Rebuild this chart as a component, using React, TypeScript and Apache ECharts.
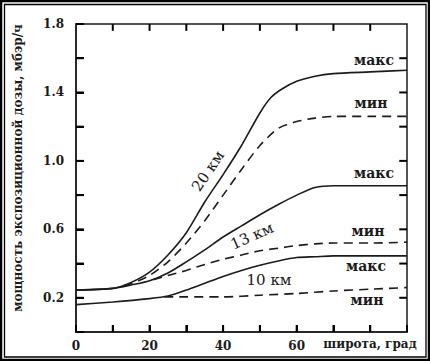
import React, { useEffect, useRef } from "react";
import * as echarts from "echarts";

// Latitude (deg) and dose rate (mrem/h)
const lat20max = [0, 10, 15, 20, 25, 30, 35, 40, 45, 50, 53, 56, 60, 65, 70, 80, 90];
const val20max = [0.245, 0.255, 0.29, 0.35, 0.45, 0.58, 0.76, 0.92, 1.09, 1.28, 1.37, 1.42, 1.465, 1.495, 1.51, 1.52, 1.53];

const lat20min = [13, 17, 20, 25, 30, 35, 40, 45, 50, 55, 60, 65, 70, 80, 90];
const val20min = [0.27, 0.3, 0.33, 0.41, 0.52, 0.65, 0.8, 0.95, 1.09, 1.19, 1.23, 1.25, 1.26, 1.26, 1.26];

const lat13max = [0, 10, 15, 20, 25, 30, 35, 40, 45, 50, 55, 60, 65, 70, 80, 90];
const val13max = [0.245, 0.255, 0.275, 0.3, 0.345, 0.41, 0.48, 0.555, 0.62, 0.685, 0.745, 0.8, 0.845, 0.855, 0.855, 0.855];

const lat13min = [21, 25, 30, 35, 40, 45, 50, 55, 60, 65, 70, 80, 90];
const val13min = [0.305, 0.33, 0.36, 0.395, 0.425, 0.45, 0.475, 0.49, 0.505, 0.515, 0.52, 0.52, 0.525];

const lat10max = [0, 10, 20, 25, 30, 35, 40, 45, 50, 55, 60, 65, 70, 80, 90];
const val10max = [0.16, 0.175, 0.195, 0.21, 0.245, 0.285, 0.325, 0.36, 0.39, 0.415, 0.435, 0.44, 0.445, 0.445, 0.445];

const lat10min = [24, 30, 40, 50, 60, 70, 80, 90];
const val10min = [0.205, 0.205, 0.205, 0.215, 0.225, 0.24, 0.25, 0.26];

const xTickLabels = [0, 20, 40, 60];
const yTickLabels = [0.2, 0.6, 1.0, 1.4, 1.8];
const xTickMarks = [10, 20, 30, 40, 50, 60, 70, 80];
const yTickMarks = [0.2, 0.4, 0.6, 0.8, 1.0, 1.2, 1.4, 1.6];

const yAxisTitle = "мощность экспозиционной дозы, мбэр/ч";
const xAxisTitle = "широта, град";

const pair = (xs: number[], ys: number[]) => xs.map((x, i) => [x, ys[i]]);

const INK = "#1b1b1b";
const SERIF = "DejaVu Serif";
const X_MIN = 0;
const X_MAX = 90;
const Y_MIN = 0;
const Y_MAX = 1.8;
// tick lengths expressed in axis units (about 7 px vertically, 8 px horizontally)
const X_TICK_LEN = 0.04;
const Y_TICK_LEN = 2.1;

export default function App() {
  const ref = useRef<HTMLDivElement>(null);

  useEffect(() => {
    if (!ref.current) return;
    const chart = echarts.init(ref.current, undefined, { renderer: "svg" });

    const lineSeries = (name: string, xs: number[], ys: number[], dashed: boolean) => ({
      name,
      type: "line",
      data: pair(xs, ys),
      smooth: 0.25,
      showSymbol: false,
      symbol: "none",
      lineStyle: {
        color: INK,
        width: 1.6,
        type: dashed ? [9, 6] : "solid",
      },
      z: 3,
    });

    const tickSeg = (a: number[], b: number[]) => ({
      type: "line",
      data: [a, b],
      showSymbol: false,
      symbol: "none",
      silent: true,
      clip: false,
      lineStyle: { color: "#000", width: 2 },
      z: 4,
    });

    const tickSeries: any[] = [];
    xTickMarks.forEach((v) => {
      tickSeries.push(tickSeg([v, Y_MIN], [v, Y_MIN + X_TICK_LEN]));
      tickSeries.push(tickSeg([v, Y_MAX], [v, Y_MAX - X_TICK_LEN]));
    });
    yTickMarks.forEach((v) => {
      tickSeries.push(tickSeg([X_MIN, v], [X_MIN + Y_TICK_LEN, v]));
      tickSeries.push(tickSeg([X_MAX, v], [X_MAX - Y_TICK_LEN, v]));
    });

    const axisTextStyle = {
      fontFamily: SERIF,
      fontSize: 12,
      fontWeight: "bold",
      color: INK,
    };

    const label = (text: string, x: number, y: number, size: number, weight: string, rot = 0) => ({
      type: "text",
      x,
      y,
      rotation: rot,
      style: {
        text,
        fill: INK,
        fontFamily: SERIF,
        fontSize: size,
        fontWeight: weight,
        align: "center",
        verticalAlign: "middle",
      },
      z: 10,
    });

    chart.setOption({
      animation: false,
      grid: { left: 76, right: 23, top: 24, bottom: 29, show: true, borderColor: INK, borderWidth: 1.5, backgroundColor: "transparent" },
      xAxis: {
        type: "value",
        min: X_MIN,
        max: X_MAX,
        interval: 10,
        axisLine: { show: true, onZero: false, lineStyle: { color: INK, width: 1.5 } },
        axisTick: { show: true, inside: true, length: 7, lineStyle: { color: "#000", width: 2 } },
        splitLine: { show: false },
        axisLabel: {
          ...axisTextStyle,
          margin: 8,
          formatter: (v: number) => (xTickLabels.includes(v) ? String(v) : ""),
        },
      },
      yAxis: {
        type: "value",
        min: Y_MIN,
        max: Y_MAX,
        interval: 0.2,
        axisLine: { show: true, onZero: false, lineStyle: { color: INK, width: 1.5 } },
        axisTick: { show: true, inside: true, length: 8, lineStyle: { color: "#000", width: 2 } },
        splitLine: { show: false },
        axisLabel: {
          ...axisTextStyle,
          margin: 12,
          formatter: (v: number) =>
            yTickLabels.some((t) => Math.abs(t - v) < 1e-6) ? v.toFixed(1) : "",
        },
      },
      series: [
        lineSeries("20 км макс", lat20max, val20max, false),
        lineSeries("20 км мин", lat20min, val20min, true),
        lineSeries("13 км макс", lat13max, val13max, false),
        lineSeries("13 км мин", lat13min, val13min, true),
        lineSeries("10 км макс", lat10max, val10max, false),
        lineSeries("10 км мин", lat10min, val10min, true),
        ...tickSeries,
      ],
      graphic: [
        {
          type: "rect",
          shape: { x: 1, y: 1, width: 428, height: 359 },
          style: { fill: "transparent", stroke: "#000", lineWidth: 2.5 },
          silent: true,
        },
        {
          type: "rect",
          shape: { x: 4.5, y: 4.5, width: 421.5, height: 352.5 },
          style: { fill: "transparent", stroke: "#000", lineWidth: 1.3 },
          silent: true,
        },
        label(yAxisTitle, 18, 168, 12, "bold", Math.PI / 2),
        label(xAxisTitle, 370, 344, 12, "bold"),
        label("макс", 374, 60, 14, "bold"),
        label("мин", 371, 103, 14, "bold"),
        label("макс", 374, 173, 14, "bold"),
        label("мин", 368, 231, 14, "bold"),
        label("макс", 366, 266, 14, "bold"),
        label("мин", 367, 300, 14, "bold"),
        label("20 км", 208, 171, 15, "normal", (56 * Math.PI) / 180),
        label("13 км", 252, 236, 15, "normal", (24 * Math.PI) / 180),
        label("10 км", 269, 280, 15, "normal"),
      ],
    });

    return () => chart.dispose();
  }, []);

  return (
    <div
      ref={ref}
      style={{ position: "absolute", left: 0, top: 0, width: 430, height: 361, background: "#fff" }}
    />
  );
}
